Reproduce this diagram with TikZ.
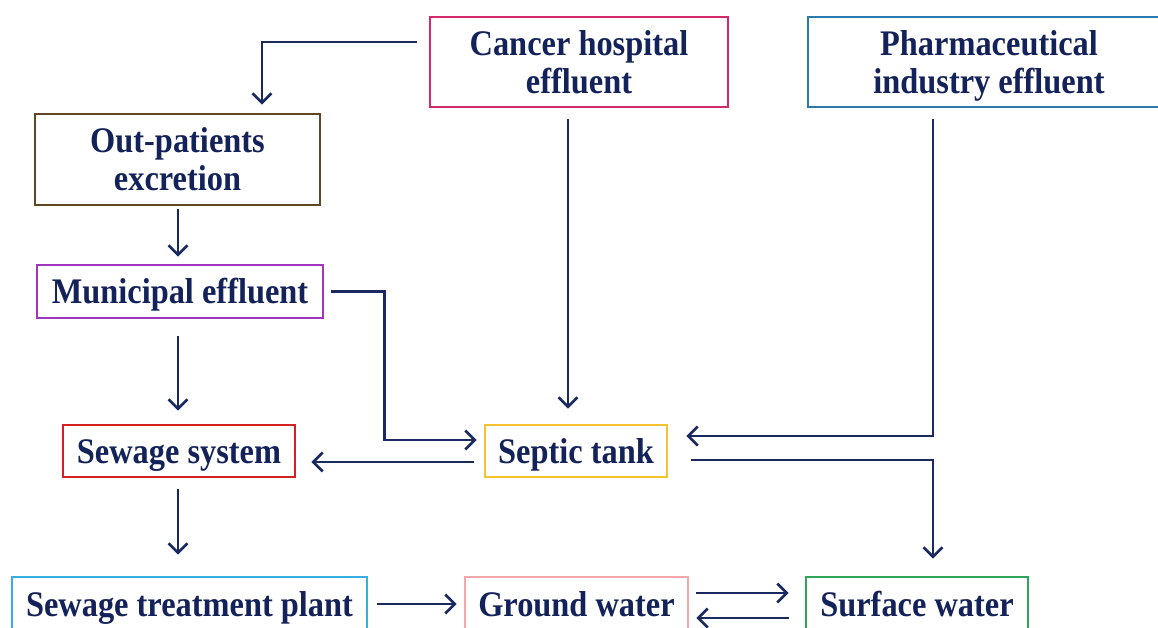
\documentclass[tikz,border=0pt]{standalone}
\usepackage{fontspec}
\setmainfont{Liberation Serif}
\newfontfamily\dfont[FakeStretch=0.9]{Liberation Serif}
\usetikzlibrary{arrows.meta}
\definecolor{txt}{HTML}{14225A}
\definecolor{arrc}{HTML}{1A2A60}
\definecolor{ccancer}{HTML}{D42A6A}
\definecolor{cpharma}{HTML}{2A7AAE}
\definecolor{coutp}{HTML}{5E4724}
\definecolor{cmuni}{HTML}{A035C0}
\definecolor{csewage}{HTML}{D42222}
\definecolor{cseptic}{HTML}{F2C230}
\definecolor{cstp}{HTML}{36AEE0}
\definecolor{cgw}{HTML}{F2A8A8}
\definecolor{csw}{HTML}{2FA55A}
\tikzset{
  boxn/.style={draw=#1, line width=2.8pt, inner sep=0pt, align=center,
    text=txt, text height=24pt, text depth=0pt,
    font=\dfont\fontsize{36}{38}\selectfont\bfseries},
  twoline/.style={text height=63pt, text depth=0pt},
  arr/.style={draw=arrc, line width=2.7pt, -{Straight Barb[length=9.5pt,width=19pt,line width=2.6pt]}},
}
\begin{document}
\begin{tikzpicture}[x=1pt,y=-1pt]
\fill[white] (0,0) rectangle (1158,628);
\clip (0,0) rectangle (1158,628);
% nodes
\node[boxn=ccancer, twoline, minimum width=298pt, minimum height=90pt] (cancer) at (579,62) {Cancer hospital\\effluent};
\node[boxn=cpharma, twoline, minimum width=362pt, minimum height=90pt] (pharma) at (989,62) {Pharmaceutical\\industry effluent};
\node[boxn=coutp, twoline, minimum width=285pt, minimum height=91pt] (outp) at (177.5,159.5) {Out-patients\\excretion};
\node[boxn=cmuni, minimum width=286pt, minimum height=53pt] (muni) at (180,291.5) {Municipal effluent};
\node[boxn=csewage, minimum width=232pt, minimum height=52pt] (sewage) at (179,451) {Sewage system};
\node[boxn=cseptic, minimum width=182pt, minimum height=52pt] (septic) at (576,451) {Septic tank};
\node[boxn=cstp, minimum width=355pt, minimum height=54pt] (stp) at (189.5,604) {Sewage treatment plant};
\node[boxn=cgw, minimum width=223pt, minimum height=54pt] (gw) at (576.5,604) {Ground water};
\node[boxn=csw, minimum width=222pt, minimum height=54pt] (sw) at (917,604) {Surface water};
% connectors
\draw[arr] ([shift={(-12,-20)}]cancer.west) -| ([shift={(84.5,-8)}]outp.north);
\coordinate (o1) at ([shift={(0.5,3)}]outp.south);
\draw[arr, shorten >=7pt] (o1) -- (o1 |- muni.north);
\coordinate (m1) at ([shift={(-2,17)}]muni.south);
\draw[arr, shorten >=13pt] (m1) -- (m1 |- sewage.north);
\draw[arr] ([shift={(7,0)}]muni.east) -- ++(53,0) |- ([shift={(-7,-11)}]septic.west);
\coordinate (c1) at ([shift={(-11,11)}]cancer.south);
\draw[arr, shorten >=15pt] (c1) -- (c1 |- septic.north);
\draw[arr] ([shift={(-56,11)}]pharma.south) |- ([shift={(18,-15)}]septic.east);
\coordinate (s1) at ([shift={(-10,11)}]septic.west);
\draw[arr, shorten >=15pt] (s1) -- (s1 -| sewage.east);
\draw[arr] ([shift={(23,9)}]septic.east) -| ([shift={(16,-17)}]sw.north);
\coordinate (w1) at ([shift={(-1,11)}]sewage.south);
\draw[arr, shorten >=21pt] (w1) -- (w1 |- stp.north);
\draw[arr, shorten <=9pt, shorten >=7pt] (stp.east) -- (gw.west);
\coordinate (g1) at ([shift={(7,-11)}]gw.east);
\draw[arr, shorten >=16pt] (g1) -- (g1 -| sw.west);
\coordinate (g2) at ([shift={(-16,14)}]sw.west);
\draw[arr, shorten >=7pt] (g2) -- (g2 -| gw.east);
\end{tikzpicture}
\end{document}
